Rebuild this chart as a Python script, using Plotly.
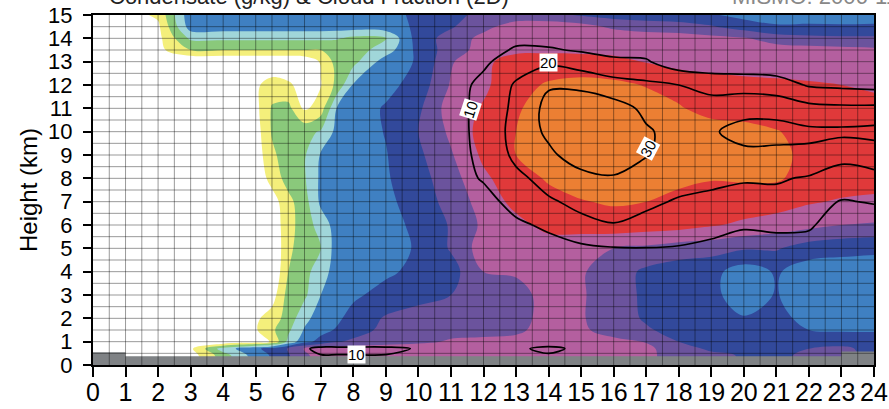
import numpy as np
import plotly.graph_objects as go

# ---------------- data ----------------
hours = [0, 1, 2, 3, 4, 5, 5.5, 6, 6.5, 7, 7.5, 8, 9, 10, 11, 12, 13, 14, 15, 16, 17, 18, 19, 20, 21, 22, 23, 24]
heights = [0, 0.4, 0.7, 1.0, 1.5, 2, 3, 4, 5, 6, 7, 8, 9, 10, 11, 12, 13, 13.5, 14, 14.5, 15]

# shaded field (band index), one row per height
band = [
    [-0.5,-0.5,-0.5, 0.0, 2.0, 4.0, 4.6, 5.4, 6.3, 6.9, 7.0, 7.0, 7.0, 7.0, 7.0, 7.0, 7.0, 7.0, 7.0, 6.9, 6.6, 6.3, 5.8, 5.4, 5.4, 5.6, 5.6, 5.4],
    [-0.5,-0.5,-0.5, 0.0, 2.0, 4.0, 4.6, 5.4, 6.3, 6.9, 7.0, 7.0, 7.0, 7.0, 7.0, 7.0, 7.0, 7.0, 7.0, 6.9, 6.6, 6.3, 5.8, 5.4, 5.4, 5.6, 5.6, 5.4],
    [-0.5,-0.5,-0.5, 0.3, 3.0, 4.3, 4.9, 5.6, 6.6, 7.0, 7.0, 7.0, 7.1, 7.1, 7.0, 7.0, 7.0, 7.1, 7.0, 6.9, 6.7, 6.0, 5.3, 5.0, 5.1, 5.5, 5.7, 5.2],
    [-0.5,-0.5,-0.5,-0.5,-0.5, 0.0, 0.6, 2.8, 4.2, 4.8, 5.4, 5.7, 6.0, 6.3, 6.6, 6.7, 6.8, 7.0, 6.9, 6.8, 6.45, 5.5, 5.2, 5.0, 5.0, 5.1, 5.1, 5.0],
    [-0.5,-0.5,-0.5,-0.5,-0.5, 0.4, 1.3, 2.3, 3.6, 4.2, 4.6, 5.0, 5.8, 6.1, 6.2, 6.2, 6.3, 6.9, 6.7, 6.0, 5.6, 5.2, 5.0, 4.8, 4.9, 4.5, 4.4, 4.4],
    [-0.5,-0.5,-0.5,-0.5,-0.5, 0.3, 1.0, 1.9, 3.2, 4.0, 4.3, 4.9, 5.6, 6.0, 6.1, 6.0, 6.2, 6.8, 6.6, 5.9, 5.4, 5.0, 4.8, 4.55, 4.8, 4.2, 4.1, 4.2],
    [-0.5,-0.5,-0.5,-0.5,-0.5,-0.5, 0.0, 1.9, 2.3, 3.5, 4.0, 4.3, 4.9, 5.1, 5.5, 6.0, 6.2, 6.8, 6.6, 6.0, 5.3, 5.0, 4.7, 4.1, 4.55, 4.0, 3.9, 3.9],
    [-0.5,-0.5,-0.5,-0.5,-0.5,-0.5,-0.5, 1.5, 2.2, 3.0, 4.0, 4.0, 4.3, 4.8, 5.1, 6.5, 6.6, 6.7, 6.6, 6.0, 5.3, 5.0, 4.8, 4.0, 4.6, 4.0, 4.0, 4.0],
    [-0.5,-0.5,-0.5,-0.5,-0.5,-0.5,-0.4, 1.2, 2.2, 2.5, 4.0, 4.0, 4.15, 4.6, 5.6, 7.0, 7.1, 7.0, 6.7, 6.5, 6.3, 6.0, 5.9, 5.6, 5.6, 5.0, 4.8, 4.7],
    [-0.5,-0.5,-0.5,-0.5,-0.5,-0.5,-0.3, 1.2, 1.9, 3.0, 3.9, 4.0, 4.2, 4.7, 5.6, 6.7, 7.2, 7.8, 8.0, 8.1, 8.0, 7.9, 7.6, 7.3, 7.0, 6.8, 6.5, 6.4],
    [-0.5,-0.5,-0.5,-0.5,-0.5,-0.5, 0.0, 1.2, 2.1, 3.7, 4.0, 4.0, 4.3, 4.9, 5.9, 6.9, 7.8, 8.2, 8.45, 8.6, 8.5, 8.2, 8.1, 8.1, 8.0, 7.6, 7.4, 7.3],
    [-0.5,-0.5,-0.5,-0.5,-0.5,-0.3, 0.9, 1.9, 2.4, 3.7, 4.0, 4.0, 4.4, 5.1, 6.1, 7.3, 8.1, 8.6, 8.9, 8.9, 8.8, 8.75, 8.55, 8.6, 8.6, 8.2, 8.0, 7.9],
    [-0.5,-0.5,-0.5,-0.5,-0.5,-0.1, 1.3, 2.0, 2.4, 3.6, 4.0, 4.0, 4.45, 5.3, 6.4, 7.7, 8.5, 9.0, 9.1, 9.1, 9.0, 9.0, 9.0, 8.9, 8.7, 8.3, 8.1, 8.0],
    [-0.5,-0.5,-0.5,-0.5,-0.5, 0.0, 1.6, 2.0, 2.2, 2.6, 3.8, 4.0, 4.55, 5.5, 6.7, 7.9, 8.5, 9.0, 9.1, 9.1, 9.1, 9.0, 9.0, 8.8, 8.55, 8.2, 8.1, 8.1],
    [-0.5,-0.5,-0.5,-0.5,-0.5, 0.2, 1.6, 1.8, 0.3, 1.0, 3.6, 4.0, 4.6, 5.3, 7.0, 7.6, 8.4, 8.9, 9.0, 9.0, 8.9, 8.6, 8.1, 8.1, 8.0, 7.9, 7.8, 7.7],
    [-0.5,-0.5,-0.5,-0.5,-0.5, 0.3, 1.0, 0.7, 0.0, 0.45, 1.8, 3.6, 4.2, 4.9, 6.6, 7.3, 8.2, 8.6, 8.8, 8.7, 8.45, 8.1, 7.9, 7.8, 7.7, 7.6, 7.5, 7.4],
    [-0.5,-0.5,-0.5,-0.5,-0.5,-0.5,-0.5,-0.5,-0.3, 0.6, 1.9, 2.2, 4.0, 4.6, 6.4, 7.3, 7.9, 8.0, 7.9, 7.8, 7.45, 7.2, 7.1, 7.0, 7.0, 7.0, 6.95, 6.9],
    [-0.5,-0.5, 0.2, 1.5, 1.5, 1.5, 1.5, 1.5, 1.5, 1.5, 1.7, 2.0, 3.0, 4.8, 6.0, 6.9, 7.3, 7.3, 7.3, 7.2, 7.1, 7.0, 7.0, 7.0, 7.0, 6.9, 6.8, 6.7],
    [0, 0, 0.2, 2.7, 2.7, 2.7, 2.7, 2.7, 2.7, 2.7, 2.6, 2.2, 2.45, 5.0, 5.9, 6.8, 7.2, 7.3, 7.3, 7.2, 7.1, 7.0, 6.8, 6.6, 6.0, 5.8, 5.7, 5.7],
    [0, 0, 0.3, 4.0, 4, 4, 4, 4, 4, 4, 4, 4, 4.1, 4.65, 5.4, 6.2, 7.0, 7.1, 6.9, 6.3, 6.0, 5.9, 5.6, 5.0, 4.6, 4.6, 4.6, 4.6],
    [0, 0, 0.7, 4.2, 4, 4, 4, 4, 4, 4, 4, 4, 4.1, 4.75, 5.3, 5.7, 5.9, 5.8, 5.4, 5.1, 5.0, 4.9, 4.6, 4.2, 4.1, 4.2, 4.1, 4.2],
]

# line-contour field (labelled 10 / 20 / 30)
lines_field = [
    [0]*28,
    [0, 0, 0, 0, 0, 0, 0, 0, 7, 9.5, 9.5, 9.5, 9.5, 5, 0, 0, 3, 8, 2, 0, 0, 0, 0, 0, 0, 0, 0, 0],
    [0, 0, 0, 0, 0, 0, 0, 3, 8.5, 13, 13, 13, 13, 9, 3, 0, 7, 14, 6, 0, 0, 0, 0, 0, 0, 0, 0, 0],
    [0]*28,
    [0]*28,
    [0]*28,
    [0]*28,
    [0, 0, 0, 0, 0, 0, 0, 0, 0, 0, 0, 0, 0, 0, 0, 0, 0, 0, 3, 3, 3, 3, 0, 0, 0, 0, 0, 0],
    [0, 0, 0, 0, 0, 0, 0, 0, 0, 0, 0, 0, 0, 0, 0, 2, 4, 6, 8, 9.5, 9.8, 9.5, 8, 6, 8, 7, 4, 3],
    [0, 0, 0, 0, 0, 0, 0, 0, 0, 0, 0, 0, 0, 0, 2, 4, 8, 12, 18, 19.5, 17, 14, 13, 11, 11, 11, 6, 6],
    [0, 0, 0, 0, 0, 0, 0, 0, 0, 0, 0, 0, 0, 0, 2, 6, 14, 19, 22, 25, 22, 19, 18, 16, 17, 14, 9.5, 10.5],
    [0, 0, 0, 0, 0, 0, 0, 0, 0, 0, 0, 0, 0, 0, 5, 11, 18, 23, 27, 29, 26, 24, 22, 21, 21, 19, 14, 17],
    [0, 0, 0, 0, 0, 0, 0, 0, 0, 0, 0, 0, 0, 0, 5, 13, 22, 28, 35, 36, 30.5, 27, 27, 28, 27, 28, 24, 25],
    [0, 0, 0, 0, 0, 0, 0, 0, 0, 0, 0, 0, 0, 0, 5, 14, 23, 32, 38, 38, 31, 27, 29, 33, 34, 32, 32, 33],
    [0, 0, 0, 0, 0, 0, 0, 0, 0, 0, 0, 0, 0, 0, 5, 14, 22, 33, 36, 34, 28, 25, 24, 27, 26, 23, 22, 22],
    [0, 0, 0, 0, 0, 0, 0, 0, 0, 0, 0, 0, 0, 0, 5, 13, 21, 29, 28, 24, 22, 20, 17, 16, 15, 9, 8, 7],
    [0, 0, 0, 0, 0, 0, 0, 0, 0, 0, 0, 0, 0, 0, 2, 8, 16, 18, 15, 12, 11, 4, 3, 3, 2, 0, 0, 0],
    [0, 0, 0, 0, 0, 0, 0, 0, 0, 0, 0, 0, 0, 0, 0, 3, 12, 11, 9, 7, 7, 4, 0, 0, 0, 0, 0, 0],
    [0, 0, 0, 0, 0, 0, 0, 0, 0, 0, 0, 0, 0, 0, 0, 0, 6, 7, 4, 0, 0, 0, 0, 0, 0, 0, 0, 0],
    [0]*28,
    [0]*28,
]

terrain_x = [0, 1, 23, 24]
terrain_y = [0.55, 0.37, 0.58, 0.58]

band_colors = ['#ffffff', '#f4ef7b', '#8ac97b', '#a0d6d9', '#3f80c2',
               '#32499b', '#6b539d', '#b45f9f', '#e0393a', '#ec7f33']

x_ticks = list(range(0, 25))
y_ticks = list(range(0, 16))

# contour labels: (text, x, y, angle)
line_labels = [("10", 11.6, 10.95, -72), ("20", 14.0, 12.95, 0),
               ("30", 17.05, 9.3, -62), ("10", 8.1, 0.45, 0)]

# ---------------- figure ----------------
n = len(band_colors)
cscale = []
for k, c in enumerate(band_colors):
    cscale.append([max(0.0, (k - 0.5) / (n - 1)), c])
    cscale.append([min(1.0, (k + 0.5) / (n - 1)), c])

FONT = "Liberation Sans, Arial, Helvetica, sans-serif"

fig = go.Figure()
fig.add_trace(go.Contour(
    x=hours, y=heights, z=band, colorscale=cscale, autocontour=False,
    contours=dict(start=0.5, end=8.5, size=1, coloring="fill", showlines=False),
    line=dict(width=0, smoothing=1.0), showscale=False, hoverinfo="skip"))

fig.add_trace(go.Contour(
    x=hours, y=heights, z=lines_field, autocontour=False,
    contours=dict(start=10, end=30, size=10, coloring="none", showlabels=False),
    line=dict(color="black", width=1.7, smoothing=1.0), showscale=False, hoverinfo="skip"))

fig.add_trace(go.Scatter(
    x=terrain_x, y=terrain_y, mode="lines", line=dict(shape="hv", width=0, color="#7f8285"),
    fill="tozeroy", fillcolor="#7f8285", hoverinfo="skip", showlegend=False))

shapes = []
for gx in np.arange(0.5, 24, 0.5):
    shapes.append(dict(type="line", xref="x", yref="y", x0=gx, x1=gx, y0=0, y1=15,
                       line=dict(color="rgba(0,0,0,0.4)", width=1), layer="above"))
for gy in np.arange(0.5, 15, 0.5):
    shapes.append(dict(type="line", xref="x", yref="y", x0=0, x1=24, y0=gy, y1=gy,
                       line=dict(color="rgba(0,0,0,0.4)", width=1), layer="above"))

annotations = []
for txt, lx, ly, ang in line_labels:
    annotations.append(dict(x=lx, y=ly, xref="x", yref="y", text=txt, showarrow=False,
                            textangle=ang, bgcolor="white", borderpad=0,
                            font=dict(family=FONT, size=15, color="black")))
annotations.append(dict(x=(107 - 93) / 781, y=1.012, xref="paper", yref="paper",
                        xanchor="left", yanchor="bottom", showarrow=False,
                        text="Condensate (g/kg) & Cloud Fraction (2D)",
                        font=dict(family=FONT, size=22, color="#222")))
annotations.append(dict(x=(730 - 93) / 781, y=1.012, xref="paper", yref="paper",
                        xanchor="left", yanchor="bottom", showarrow=False,
                        text="MISMO: 2006-11-03",
                        font=dict(family=FONT, size=22, color="#888")))

fig.update_layout(
    width=889, height=409, margin=dict(l=93, r=15, t=15, b=44, autoexpand=False),
    paper_bgcolor="white", plot_bgcolor="white", showlegend=False,
    shapes=shapes, annotations=annotations,
    font=dict(family=FONT, color="black"),
    xaxis=dict(range=[0, 24], tickvals=x_ticks, ticks="outside", ticklen=10, tickwidth=1.5,
               tickcolor="black", showline=True, linewidth=2, linecolor="black", mirror=True,
               showgrid=False, zeroline=False, automargin=False, ticklabelstandoff=-6,
               tickfont=dict(size=25, family=FONT, color="black")),
    yaxis=dict(range=[0, 15], tickvals=y_ticks, ticks="outside", ticklen=8, tickwidth=1.5,
               tickcolor="black", showline=True, linewidth=2, linecolor="black", mirror=True,
               showgrid=False, zeroline=False, ticklabelstandoff=6, automargin=False,
               tickfont=dict(size=22, family=FONT, color="black"),
               title=dict(text="Height (km)", standoff=4, font=dict(size=24, family=FONT, color="black"))),
)

fig.write_html("out.html")
